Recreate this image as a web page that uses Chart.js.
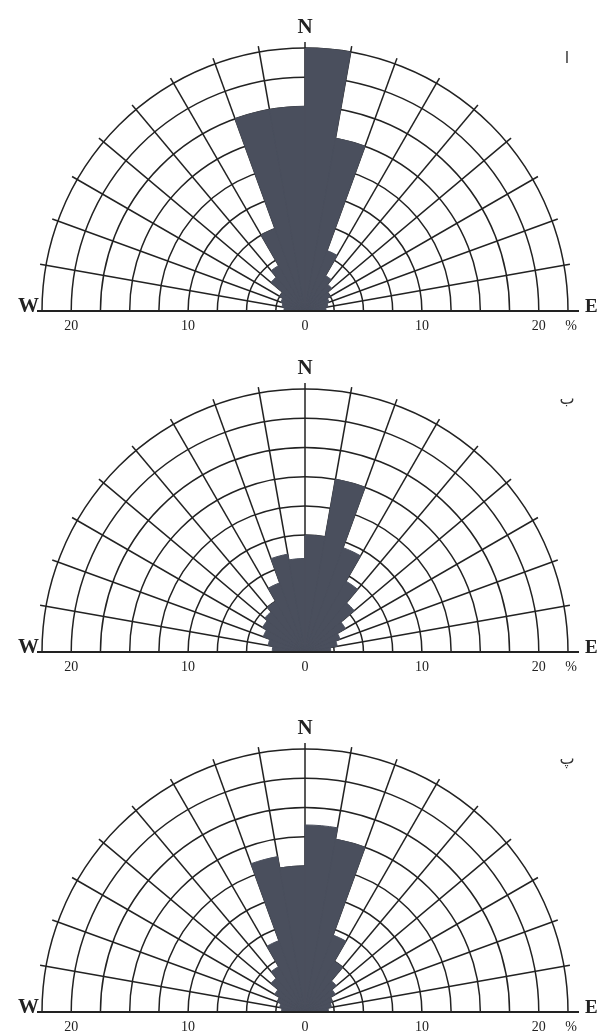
<!DOCTYPE html>
<html>
<head>
<meta charset="utf-8">
<script src="https://cdn.jsdelivr.net/npm/chart.js@4.4.0/dist/chart.umd.min.js"></script>
<style>
  html, body { margin: 0; padding: 0; background: #fff; overflow: hidden; }
  body { width: 601px; height: 1036px; position: relative; }
  canvas { position: absolute; left: 0; }
</style>
</head>
<body>
<canvas id="rose1" width="601" height="606"></canvas>
<canvas id="rose2" width="601" height="606"></canvas>
<canvas id="rose3" width="601" height="606"></canvas>
<script>
// half rose diagrams, 10 degree classes from W through N to E (values in %)
const directions = [270, 280, 290, 300, 310, 320, 330, 340, 350, 0, 10, 20, 30, 40, 50, 60, 70, 80];
const roseA = [1.8, 2.0, 2.2, 2.5, 3.8, 4.5, 7.5, 17.5, 17.5, 22.5, 15, 5.5, 3.5, 3.0, 2.5, 2.2, 2.0, 1.8];
const roseB = [2.8, 3.2, 3.8, 4.2, 4.5, 5.0, 6.3, 8.5, 8.0, 10, 15, 9.5, 7.0, 5.5, 4.0, 3.2, 2.8, 2.2];
const roseC = [2.0, 2.2, 2.5, 3.0, 3.8, 4.5, 6.5, 13.5, 12.5, 16, 15, 7.0, 5.0, 3.5, 3.0, 2.5, 2.3, 2.0];
const tickValues = [-20, -10, 0, 10, 20];
const tickLabels = ['20', '10', '0', '10', '20'];
const panelLabels = ['ا', 'ب', 'پ'];

const gridColor = '#222';
const wedgeColor = '#4a4f5d';

// frame: keep only the upper half, then draw baseline, compass letters and % axis
const roseFrame = {
    id: 'roseFrame',
    beforeDraw(chart) {
        const r = chart.scales.r;
        const ctx = chart.ctx;
        ctx.save();
        ctx.beginPath();
        ctx.rect(0, 0, chart.width, r.yCenter);
        ctx.clip();
    },
    afterDraw(chart, args, opts) {
        const r = chart.scales.r;
        const ctx = chart.ctx;
        ctx.restore();

        const cx = r.xCenter;
        const cy = r.yCenter;
        const outer = r.getDistanceFromCenterForValue(r.max);

        ctx.save();
        ctx.strokeStyle = gridColor;
        ctx.lineWidth = 1.5;
        // small ticks past the outer ring
        for (let i = 1; i < directions.length; i++) {
            const a = r.getPointPosition(i, outer);
            const b = r.getPointPosition(i, outer + 6);
            ctx.beginPath();
            ctx.moveTo(a.x, a.y);
            ctx.lineTo(b.x, b.y);
            ctx.stroke();
        }
        // baseline W - E
        ctx.lineWidth = 2.2;
        ctx.beginPath();
        ctx.moveTo(cx - outer - 5, cy);
        ctx.lineTo(cx + outer + 11, cy);
        ctx.stroke();

        ctx.fillStyle = '#222';
        ctx.textBaseline = 'alphabetic';
        ctx.font = 'bold 21px "Liberation Serif"';
        ctx.textAlign = 'center';
        ctx.fillText('N', cx, cy - outer - 15);
        ctx.textAlign = 'right';
        ctx.fillText('W', cx - outer - 3, cy + 1);
        ctx.font = 'bold 19px "Liberation Serif"';
        ctx.textAlign = 'left';
        ctx.fillText('E', cx + outer + 17, cy + 1);

        ctx.font = '14px "Liberation Serif"';
        ctx.textAlign = 'center';
        tickValues.forEach((v, i) => {
            const d = r.getDistanceFromCenterForValue(Math.abs(v));
            const x = v < 0 ? cx - d : cx + d;
            ctx.fillText(tickLabels[i], x, cy + 19);
        });
        ctx.fillText('%', cx + outer + 3, cy + 19);

        ctx.font = '16px "DejaVu Sans"';
        ctx.fillStyle = '#333';
        ctx.fillText(opts.panel, cx + outer - 1, cy - outer + 15);
        ctx.restore();
    }
};

function makeRose(id, values, centerY, panel) {
    const canvas = document.getElementById(id);
    canvas.style.top = (centerY - 303) + 'px';
    const labels = directions.map(d => d + '°');
    const bottom = directions.map(d => '');
    new Chart(canvas, {
        type: 'polarArea',
        data: {
            labels: labels.concat(bottom),
            datasets: [{
                data: values.concat(directions.map(() => 0)),
                backgroundColor: wedgeColor,
                borderColor: wedgeColor,
                borderWidth: 1
            }]
        },
        options: {
            responsive: false,
            animation: false,
            layout: { padding: { top: 40, bottom: 40, left: 10, right: 0 } },
            plugins: {
                legend: { display: false },
                tooltip: { enabled: false },
                roseFrame: { panel: panel }
            },
            scales: {
                r: {
                    min: 0,
                    max: 22.5,
                    startAngle: -90,
                    ticks: { display: false, stepSize: 2.5 },
                    grid: { circular: true, color: gridColor, lineWidth: 1.5 },
                    angleLines: { display: true, color: gridColor, lineWidth: 1.5 },
                    pointLabels: { display: false }
                }
            }
        },
        plugins: [roseFrame]
    });
}

makeRose('rose1', roseA, 311, panelLabels[0]);
makeRose('rose2', roseB, 652, panelLabels[1]);
makeRose('rose3', roseC, 1012, panelLabels[2]);
</script>
</body>
</html>
